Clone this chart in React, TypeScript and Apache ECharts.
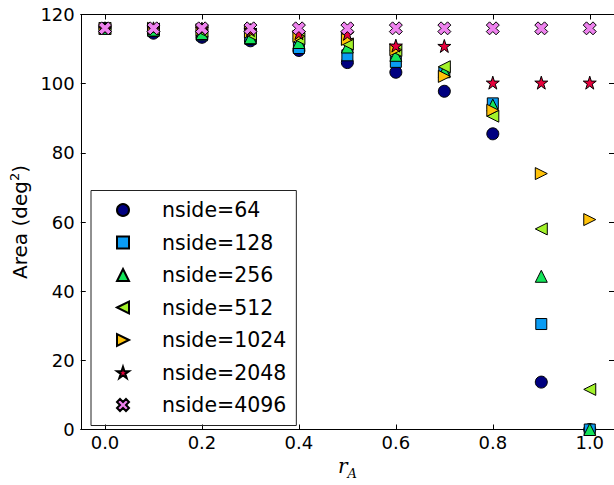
import React, { useEffect, useRef } from "react";
import * as echarts from "echarts";

const rA = [0.0, 0.1, 0.2, 0.3, 0.4, 0.5, 0.6, 0.7, 0.8, 0.9, 1.0];
const nside64 = [116, 114.6, 113.4, 112.4, 109.6, 106.1, 103.3, 97.8, 85.5, 13.7, 0];
const nside128 = [116, 115.2, 114.0, 112.9, 110.3, 108.2, 106.3, 103.3, 94.3, 30.5, 0];
const nside256 = [116, 115.5, 114.5, 113.3, 111.9, 110.6, 108.2, 103.6, 93.8, 44.3, 0];
const nside512 = [116, 115.8, 115.2, 114.3, 113.0, 111.5, 109.6, 104.9, 90.6, 58.0, 11.6];
const nside1024 = [116, 116, 115.6, 114.9, 113.7, 112.8, 109.8, 102.1, 92.3, 74.0, 60.7];
const nside2048 = [116, 116, 115.9, 115.5, 114.6, 114.4, 111.0, 110.9, 100.3, 100.3, 100.3];
const nside4096 = [116, 116, 116, 116, 116, 116, 116, 116, 116, 116, 116];
const seriesNames = ["nside=64", "nside=128", "nside=256", "nside=512", "nside=1024", "nside=2048", "nside=4096"];
const xTicks = [0.0, 0.2, 0.4, 0.6, 0.8, 1.0];

function starPath(): string {
  const pts: string[] = [];
  for (let k = 0; k < 10; k++) {
    const a = ((-90 + k * 36) * Math.PI) / 180;
    const r = k % 2 === 0 ? 50 : 19.1;
    pts.push(`${(50 + r * Math.cos(a)).toFixed(2)},${(50 + r * Math.sin(a)).toFixed(2)}`);
  }
  return "path://M" + pts.join("L") + "Z";
}

function xPath(): string {
  const P = [[-1, -3], [1, -3], [1, -1], [3, -1], [3, 1], [1, 1], [1, 3], [-1, 3], [-1, 1], [-3, 1], [-3, -1], [-1, -1]];
  const pts = P.map(([x, y]) => {
    const rx = (x - y) / Math.SQRT2;
    const ry = (x + y) / Math.SQRT2;
    return `${(50 + rx * 10).toFixed(2)},${(50 + ry * 10).toFixed(2)}`;
  });
  return "path://M" + pts.join("L") + "Z";
}

export default function App() {
  const ref = useRef<HTMLDivElement>(null);
  useEffect(() => {
    const chart = echarts.init(ref.current!, null, { renderer: "svg" });
    const values = [nside64, nside128, nside256, nside512, nside1024, nside2048, nside4096];
    const colors = ["#000080", "#0a9cf4", "#14e45a", "#a2f22a", "#ffc20a", "#e8003c", "#ee82ee"];
    const symbols = [
      "circle",
      "rect",
      "triangle",
      "path://M0,50L100,0L100,100Z",
      "path://M100,50L0,0L0,100Z",
      starPath(),
      xPath(),
    ];
    const sizes = [12, 11, 12, 12, 12, 13, 13];
    const font = "DejaVu Sans";
    const tickStyle = { show: true, inside: true, length: 5, lineStyle: { color: "#000", width: 1 } };
    const lineStyle = { show: true, onZero: false, lineStyle: { color: "#000", width: 1 } };

    const option: any = {
      animation: false,
      backgroundColor: "#fff",
      textStyle: { fontFamily: font },
      grid: { left: 80.5, top: 14.5, width: 535, height: 415, containLabel: false },
      xAxis: [
        {
          type: "value",
          min: -0.05,
          max: 1.05,
          position: "bottom",
          axisLine: lineStyle,
          axisTick: { ...tickStyle, customValues: xTicks },
          splitLine: { show: false },
          axisLabel: {
            customValues: xTicks,
            formatter: (v: number) => v.toFixed(1),
            color: "#000",
            fontSize: 18,
            fontFamily: font,
            margin: 4,
          },
          name: "{r|r}{s|A}",
          nameLocation: "middle",
          nameGap: 19,
          nameTextStyle: {
            rich: {
              r: { fontFamily: "DejaVu Serif", fontStyle: "italic", fontSize: 20, color: "#000" },
              s: { fontFamily: "DejaVu Serif", fontStyle: "italic", fontSize: 13, color: "#000", padding: [14, 0, 0, 0] },
            },
          },
        },
        {
          type: "value",
          min: -0.05,
          max: 1.05,
          position: "top",
          axisLine: lineStyle,
          axisTick: { ...tickStyle, customValues: xTicks },
          splitLine: { show: false },
          axisLabel: { show: false },
        },
      ],
      yAxis: [
        {
          type: "value",
          min: 0,
          max: 120,
          interval: 20,
          position: "left",
          axisLine: lineStyle,
          axisTick: tickStyle,
          splitLine: { show: false },
          axisLabel: { color: "#000", fontSize: 18, fontFamily: font, margin: 6 },
          name: "Area (deg{sup|2})",
          nameLocation: "middle",
          nameGap: 48,
          nameTextStyle: {
            color: "#000",
            fontSize: 20,
            fontFamily: font,
            rich: {
              sup: { fontSize: 13, fontFamily: font, color: "#000", padding: [0, 0, 10, 0] },
            },
          },
        },
        {
          type: "value",
          min: 0,
          max: 120,
          interval: 20,
          position: "right",
          axisLine: lineStyle,
          axisTick: tickStyle,
          splitLine: { show: false },
          axisLabel: { show: false },
        },
      ],
      legend: {
        orient: "vertical",
        left: 91,
        top: 190.5,
        padding: [9, 10, 10, 25],
        itemWidth: 12,
        itemHeight: 12,
        itemGap: 11.5,
        borderColor: "#222",
        borderWidth: 1,
        selectedMode: false,
        textStyle: { fontSize: 20.5, fontFamily: font, color: "#000", lineHeight: 20, padding: [0, 0, 0, 28] },
        data: seriesNames.map((n, i) => ({ name: n, icon: symbols[i] })),
      },
      series: seriesNames.map((n, i) => ({
        name: n,
        type: "scatter",
        xAxisIndex: 0,
        yAxisIndex: 0,
        symbol: symbols[i],
        symbolSize: sizes[i],
        silent: true,
        itemStyle: { color: colors[i], borderColor: "#000", borderWidth: 1, opacity: 1 },
        emphasis: { disabled: true },
        data: rA.map((x, j) => [x, values[i][j]]),
      })),
    };
    chart.setOption(option);
    return () => chart.dispose();
  }, []);
  return <div ref={ref} style={{ position: "absolute", left: 0, top: 0, width: 614, height: 485 }} />;
}
